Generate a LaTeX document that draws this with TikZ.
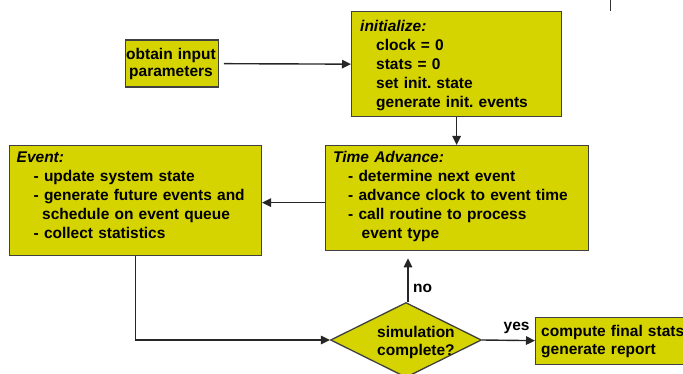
\documentclass[tikz,border=0pt]{standalone}
\usepackage{fontspec}
\setmainfont{Liberation Sans}
\frenchspacing
\usetikzlibrary{arrows.meta,shapes.geometric}
\definecolor{boxfill}{RGB}{213,211,0}
\definecolor{boxline}{RGB}{64,64,64}
\tikzset{
  box/.style={draw=boxline, line width=1.3pt, fill=boxfill, rectangle, inner sep=0pt, anchor=north west},
  dia/.style={draw=boxline, line width=1.3pt, fill=boxfill, diamond, inner sep=0pt},
  txt/.style={anchor=base west, inner sep=0pt, text width=260pt, align=left,
    font=\fontsize{15.5}{18.8}\selectfont\bfseries\frenchspacing},
  ctxt/.style={anchor=base, inner sep=0pt, text width=110pt, align=center,
    font=\fontsize{15.5}{17.5}\selectfont\bfseries},
  lbl/.style={anchor=base west, inner sep=0pt, font=\fontsize{15.5}{18.8}\selectfont\bfseries},
  conn/.style={line width=1.4pt, draw=black!85, -{Triangle[length=9pt,width=8.5pt]}},
}
\begin{document}
\begin{tikzpicture}[x=1pt,y=-1pt]
\useasboundingbox (0,0) rectangle (683,374);
\clip (0,0) rectangle (683,374);
% boxes
\node[box, minimum width=93pt, minimum height=47pt] (obtain) at (124.5,39.5) {};
\node[box, minimum width=210pt, minimum height=105pt] (init) at (351,11) {};
\node[box, minimum width=263pt, minimum height=105pt] (ta) at (324.5,145) {};
\node[box, minimum width=252pt, minimum height=110pt] (event) at (8.7,145) {};
\node[dia, minimum width=151pt, minimum height=75pt] (sim) at (406,340) {};
\node[box, minimum width=180pt, minimum height=47pt] (final) at (535,316.5) {};
% texts
\node[ctxt] (obtainT) at (171,59.3) {obtain input\\parameters};
\node[txt] (initT) at (360,32) {\textit{initialize:}\\
  \hspace*{16pt}clock = 0\\
  \hspace*{16pt}stats = 0\\
  \hspace*{16pt}set init. state\\
  \hspace*{16pt}generate init. events};
\node[txt] (taT) at (333,163) {\textit{Time Advance:}\\
  \hspace*{15pt}- determine next event\\
  \hspace*{15pt}- advance clock to event time\\
  \hspace*{15pt}- call routine to process\\
  \hspace*{28.5pt}event type};
\node[txt] (eventT) at (16.5,163) {\textit{Event:}\\
  \hspace*{17pt}- update system state\\
  \hspace*{17pt}- generate future events and\\
  \hspace*{25.5pt}schedule on event queue\\
  \hspace*{17pt}- collect statistics};
\node[txt] (simT) at (377,337) {simulation\\complete?};
\node[txt] (finalT) at (541,336) {compute final stats\\generate report};
% connectors
\draw[conn, shorten <=5pt] (obtain.east) -- (init.west);
\draw[conn] (init.south) -- (ta.north);
\draw[conn] ([yshift=-4.5pt]ta.west) -- ([yshift=-2pt]event.east);
\draw[conn] (event.south) |- (sim.west);
\draw[conn, shorten >=7pt] ([xshift=2pt]sim.north) -- ([xshift=2pt]sim.north |- ta.south);
\draw[conn] (sim.east) -- (final.west);
\node[lbl] (no) at (413,292) {no};
\node[lbl] (yes) at (503.5,330) {yes};
% stray mark at top right
\coordinate (m1) at (610.5,0);
\coordinate (m2) at (610.5,11);
\draw[line width=1pt, black!80] (m1) -- (m2);
\end{tikzpicture}
\end{document}
